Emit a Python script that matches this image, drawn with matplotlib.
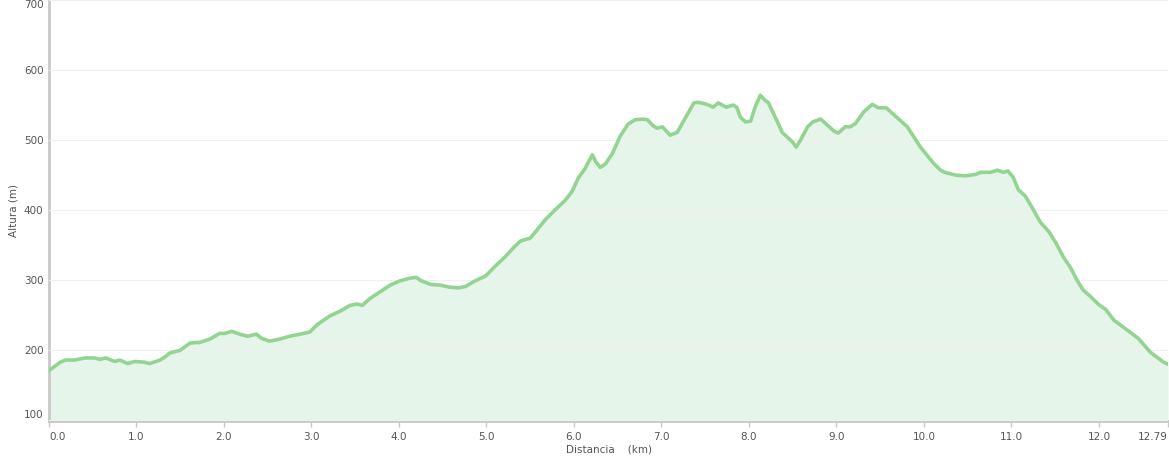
import numpy as np
import matplotlib
matplotlib.use("Agg")
import matplotlib.pyplot as plt

# elevation profile (km, m)
dist_km = [0.0, 0.13, 0.19, 0.29, 0.41, 0.52, 0.58, 0.65, 0.75, 0.81, 0.90, 0.98,
           1.09, 1.15, 1.27, 1.32, 1.38, 1.50, 1.61, 1.67, 1.72, 1.84, 1.95, 2.01,
           2.09, 2.18, 2.27, 2.37, 2.43, 2.52, 2.64, 2.75, 2.87, 2.98, 3.07, 3.21,
           3.33, 3.44, 3.52, 3.58, 3.67, 3.78, 3.90, 4.01, 4.13, 4.20, 4.24, 4.36,
           4.47, 4.58, 4.68, 4.76, 4.87, 4.99, 5.10, 5.21, 5.33, 5.39, 5.50, 5.56,
           5.67, 5.79, 5.90, 5.98, 6.05, 6.13, 6.21, 6.25, 6.30, 6.36, 6.44, 6.53,
           6.62, 6.70, 6.79, 6.84, 6.90, 6.95, 7.01, 7.10, 7.18, 7.27, 7.37, 7.42,
           7.52, 7.59, 7.65, 7.74, 7.82, 7.86, 7.90, 7.96, 8.02, 8.07, 8.13, 8.19,
           8.22, 8.30, 8.38, 8.44, 8.50, 8.54, 8.59, 8.67, 8.73, 8.82, 8.90, 8.97,
           9.02, 9.10, 9.16, 9.22, 9.31, 9.41, 9.48, 9.57, 9.65, 9.81, 9.96, 10.11,
           10.19, 10.24, 10.36, 10.48, 10.59, 10.65, 10.76, 10.84, 10.91, 10.96,
           11.02, 11.08, 11.16, 11.24, 11.33, 11.43, 11.51, 11.59, 11.68, 11.75,
           11.82, 11.91, 12.00, 12.08, 12.17, 12.28, 12.45, 12.59, 12.74, 12.79]
altura_m = [171, 183, 186, 186, 189, 189, 187, 189, 184, 186, 181, 184,
            183, 181, 186, 190, 196, 200, 210, 211, 211, 216, 224, 224,
            227, 223, 220, 223, 217, 213, 216, 220, 223, 226, 237, 249,
            256, 264, 266, 264, 274, 283, 293, 299, 303, 304, 300, 294,
            293, 290, 289, 291, 299, 306, 320, 333, 349, 356, 360, 369,
            386, 401, 414, 427, 446, 460, 479, 469, 461, 466, 481, 506,
            523, 529, 530, 529, 521, 517, 519, 507, 511, 531, 553, 554,
            551, 547, 553, 547, 550, 547, 533, 526, 527, 547, 564, 556,
            554, 533, 511, 504, 497, 490, 500, 519, 526, 530, 521, 513,
            510, 519, 519, 524, 540, 551, 546, 546, 537, 519, 490, 467,
            457, 454, 450, 449, 451, 454, 454, 457, 454, 456,
            447, 429, 420, 403, 383, 369, 353, 334, 317, 300,
            286, 276, 265, 258, 243, 233, 217, 197, 183, 180]

x_ticks = [0, 1, 2, 3, 4, 5, 6, 7, 8, 9, 10, 11, 12, 12.79]
x_labels = ["0.0", "1.0", "2.0", "3.0", "4.0", "5.0", "6.0", "7.0", "8.0",
            "9.0", "10.0", "11.0", "12.0", "12.79"]
y_ticks = [100, 200, 300, 400, 500, 600, 700]

line_color = "#93d493"
fill_color = "#e6f5e9"
text_color = "#555555"

fig = plt.figure(figsize=(11.69, 4.62), dpi=100)
ax = fig.add_axes([49 / 1169, 1 - 421 / 462, 1119 / 1169, 421 / 462])

ax.fill_between(dist_km, altura_m, 0, color=fill_color, lw=0, zorder=1)
ax.plot(dist_km, altura_m, color=line_color, lw=2.6, solid_joinstyle="round", zorder=3)

ax.set_xlim(0, 12.79)
ax.set_ylim(99, 700)
ax.set_xticks(x_ticks)
ax.set_xticklabels(x_labels)
ax.set_yticks(y_ticks)
ax.grid(axis="y", color="#f0f0f0", lw=0.8, zorder=2)
ax.set_axisbelow(False)

for side in ["top", "right"]:
    ax.spines[side].set_visible(False)
for side in ["left", "bottom"]:
    ax.spines[side].set_color("#c8c8c8")
    ax.spines[side].set_linewidth(2)

ax.tick_params(axis="x", colors="#c8c8c8", length=4, width=1, labelcolor=text_color,
               labelsize=7.5, pad=4)
ax.tick_params(axis="y", length=0, labelcolor=text_color, labelsize=7.5, pad=4)

ylabs = ax.get_yticklabels()
ylabs[0].set_va("bottom")
ylabs[-1].set_va("top")
xlabs = ax.get_xticklabels()
xlabs[0].set_ha("left")
xlabs[-1].set_ha("right")

ax.set_xlabel("Distancia    (km)", fontsize=7.5, color=text_color, labelpad=2)
ax.set_ylabel("Altura (m)", fontsize=7.5, color=text_color)
ax.yaxis.set_label_coords(-31 / 1119, 0.5)

fig.savefig("out.png", dpi=100, facecolor="white")
